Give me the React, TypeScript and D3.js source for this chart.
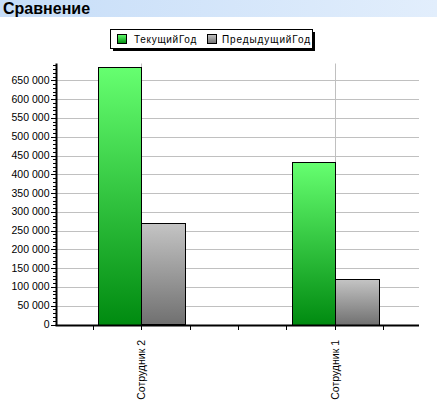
import React from "react";
import * as d3 from "d3";

const categories = ["Сотрудник 2", "Сотрудник 1"];
const seriesNames = ["ТекущийГод", "ПредыдущийГод"];
const currentYear = [686000, 433000];
const previousYear = [270000, 122000];
const yTicks = [0, 50000, 100000, 150000, 200000, 250000, 300000, 350000, 400000, 450000, 500000, 550000, 600000, 650000];

const W = 437;
const H = 414;
const FONT = "'Liberation Sans', Arial, sans-serif";

const fmt = (v: number) => d3.format(",")(v).replace(/,/g, " ");

export default function App() {
  const x = d3.scaleLinear().domain([-0.433, 1.433]).range([57, 419]);
  const y = d3.scaleLinear().domain([0, 695000]).range([324.5, 63.5]);
  const barW = x(0.22) - x(0);
  const xTicks = d3.range(-0.25, 1.26, 0.25);
  const minorTicks = d3.range(0, 695001, 10000);

  return (
    <svg width={W} height={H} style={{ position: "absolute", left: 0, top: 0, fontFamily: FONT }}>
      <defs>
        <linearGradient id="titleBg" x1="0" x2="1" y1="0" y2="0">
          <stop offset="0" stopColor="#c6ddf8" />
          <stop offset="1" stopColor="#e2eefc" />
        </linearGradient>
        <linearGradient id="green" x1="0" x2="0" y1="0" y2="1">
          <stop offset="0" stopColor="#66ff70" />
          <stop offset="1" stopColor="#008a10" />
        </linearGradient>
        <linearGradient id="gray" x1="0" x2="0" y1="0" y2="1">
          <stop offset="0" stopColor="#c4c4c4" />
          <stop offset="1" stopColor="#707070" />
        </linearGradient>
      </defs>
      <rect x={0} y={0} width={W} height={H} fill="#ffffff" />
      <rect x={0} y={0} width={W} height={17} fill="url(#titleBg)" />
      <text x={3} y={14} fontSize={16} fontWeight="bold" fill="#000">Сравнение</text>

      {/* legend */}
      <rect x={113} y={32} width={202} height={19} fill="#000" />
      <rect x={110.5} y={29.5} width={202} height={19} fill="#fff" stroke="#000" />
      <rect x={117.5} y={34.5} width={9} height={9} fill="url(#green)" stroke="#000" />
      <text x={134} y={43} fontSize={10} letterSpacing={0.7} fill="#000">{seriesNames[0]}</text>
      <rect x={207.5} y={34.5} width={9} height={9} fill="url(#gray)" stroke="#000" />
      <text x={222} y={43} fontSize={10} letterSpacing={0.9} fill="#000">{seriesNames[1]}</text>

      {/* grid */}
      {yTicks.filter((t) => t > 0).map((t) => (
        <line key={"g" + t} x1={57} x2={419} y1={Math.round(y(t)) + 0.5} y2={Math.round(y(t)) + 0.5} stroke="#c0c0c0" />
      ))}
      {categories.map((c, i) => (
        <line key={"v" + c} x1={Math.round(x(i)) + 0.5} x2={Math.round(x(i)) + 0.5} y1={y.range()[1]} y2={324} stroke="#c0c0c0" />
      ))}

      {/* bars */}
      {categories.map((c, i) => (
        <g key={"b" + c}>
          <rect x={Math.round(x(i) - barW) + 0.5} y={Math.round(y(currentYear[i])) + 0.5} width={Math.round(barW)} height={Math.round(y(0) - y(currentYear[i]))} fill="url(#green)" stroke="#000" />
          <rect x={Math.round(x(i)) + 0.5} y={Math.round(y(previousYear[i])) + 0.5} width={Math.round(barW) + 1} height={Math.round(y(0) - y(previousYear[i]))} fill="url(#gray)" stroke="#000" />
        </g>
      ))}

      {/* y axis */}
      {minorTicks.map((t) => (
        <line key={"m" + t} x1={t % 50000 === 0 ? 51 : 53} x2={57} y1={Math.round(y(t)) + 0.5} y2={Math.round(y(t)) + 0.5} stroke="#000" />
      ))}
      {yTicks.map((t) => (
        <text key={"l" + t} x={49.5} y={y(t) + 3.5} fontSize={10.5} textAnchor="end" fill="#000">{fmt(t)}</text>
      ))}
      <line x1={56.5} x2={56.5} y1={y.range()[1]} y2={326} stroke="#000" strokeWidth={2} />

      {/* x axis */}
      {xTicks.map((t) => (
        <line key={"x" + t} x1={Math.round(x(t)) + 0.5} x2={Math.round(x(t)) + 0.5} y1={325} y2={330} stroke="#000" />
      ))}
      <line x1={55.5} x2={419} y1={325.5} y2={325.5} stroke="#000" strokeWidth={2} />
      {categories.map((c, i) => (
        <text key={"c" + c} transform={`translate(${x(i) + 4},340) rotate(-90)`} fontSize={10.5} textAnchor="end" fill="#000">{c}</text>
      ))}
    </svg>
  );
}
